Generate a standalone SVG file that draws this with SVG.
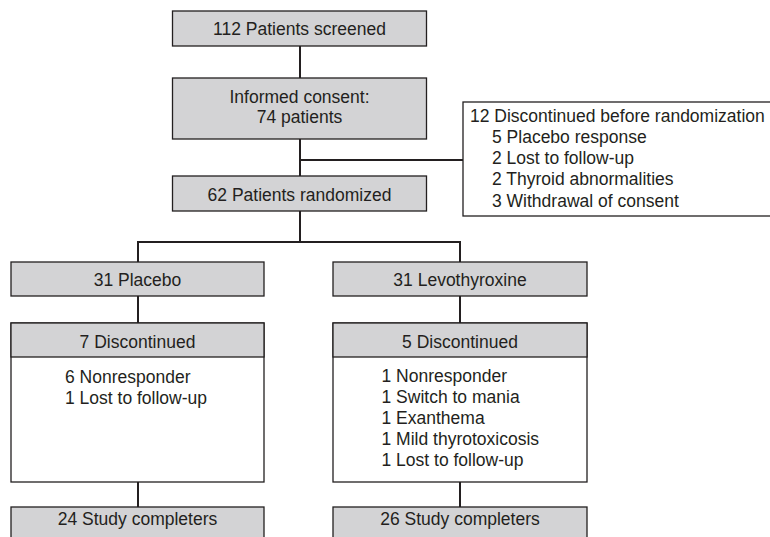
<svg xmlns="http://www.w3.org/2000/svg" width="770" height="537" viewBox="0 0 770 537">
<style>
.box{fill:#d3d3d5;stroke:#231f20;stroke-width:1.3}
.wbox{fill:#ffffff;stroke:#231f20;stroke-width:1.3}
.conn{stroke:#231f20;stroke-width:2;fill:none}
text{font-family:"Liberation Sans",Arial,sans-serif;font-size:17.5px;fill:#231f20}
.c{text-anchor:middle}
</style>
<rect width="770" height="537" fill="#ffffff"/>
<g id="connectors">
<line class="conn" x1="300" y1="46" x2="300" y2="78"/>
<line class="conn" x1="300" y1="139" x2="300" y2="176"/>
<line class="conn" x1="300" y1="160" x2="463" y2="160"/>
<line class="conn" x1="300" y1="211" x2="300" y2="242"/>
<polyline class="conn" points="138,262 138,242 460,242 460,262"/>
<line class="conn" x1="138" y1="296" x2="138" y2="323"/>
<line class="conn" x1="460" y1="296" x2="460" y2="323"/>
<line class="conn" x1="138" y1="482" x2="138" y2="507"/>
<line class="conn" x1="460" y1="482" x2="460" y2="507"/>
</g>
<g id="screened">
<rect class="box" x="172.5" y="11" width="254" height="35"/>
<text class="c" x="299.5" y="35">112 Patients screened</text>
</g>
<g id="consent">
<rect class="box" x="172.5" y="78" width="254" height="61"/>
<text class="c" x="299.5" y="103">Informed consent:</text>
<text class="c" x="299.5" y="123">74 patients</text>
</g>
<g id="discontinued-before">
<rect class="wbox" x="463" y="102" width="320" height="114"/>
<text x="470" y="122">12 Discontinued before randomization</text>
<text x="492" y="143">5 Placebo response</text>
<text x="492" y="164">2 Lost to follow-up</text>
<text x="492" y="185">2 Thyroid abnormalities</text>
<text x="492" y="206.5">3 Withdrawal of consent</text>
</g>
<g id="randomized">
<rect class="box" x="172.5" y="176" width="254" height="35"/>
<text class="c" x="299.5" y="200.5">62 Patients randomized</text>
</g>
<g id="placebo">
<rect class="box" x="11" y="262" width="253" height="34"/>
<text class="c" x="137.5" y="285.5">31 Placebo</text>
</g>
<g id="levothyroxine">
<rect class="box" x="333" y="262" width="254" height="34"/>
<text class="c" x="460" y="285.5">31 Levothyroxine</text>
</g>
<g id="placebo-discontinued">
<rect class="wbox" x="11" y="323" width="253" height="159"/>
<rect class="box" x="11" y="323" width="253" height="34"/>
<text class="c" x="137.5" y="348">7 Discontinued</text>
<text x="65" y="383">6 Nonresponder</text>
<text x="65" y="404">1 Lost to follow-up</text>
</g>
<g id="levo-discontinued">
<rect class="wbox" x="333" y="323" width="254" height="159"/>
<rect class="box" x="333" y="323" width="254" height="34"/>
<text class="c" x="460" y="347.5">5 Discontinued</text>
<text x="381.5" y="382">1 Nonresponder</text>
<text x="381.5" y="403">1 Switch to mania</text>
<text x="381.5" y="424">1 Exanthema</text>
<text x="381.5" y="445">1 Mild thyrotoxicosis</text>
<text x="381.5" y="466">1 Lost to follow-up</text>
</g>
<g id="placebo-completers">
<rect class="box" x="11" y="507" width="253" height="40"/>
<text class="c" x="137.5" y="525">24 Study completers</text>
</g>
<g id="levo-completers">
<rect class="box" x="333" y="507" width="254" height="40"/>
<text class="c" x="460" y="525">26 Study completers</text>
</g>
</svg>
